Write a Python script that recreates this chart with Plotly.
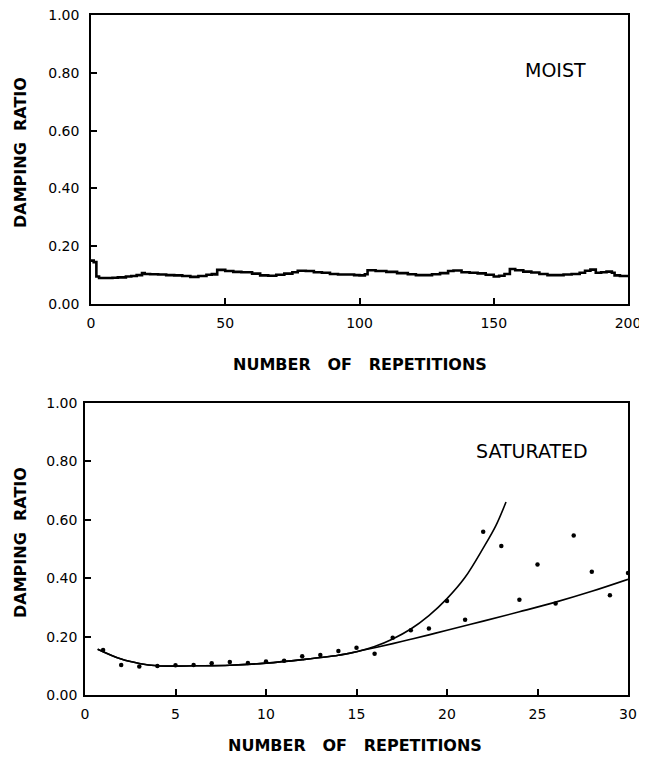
import plotly.graph_objects as go

# ---- Top panel (MOIST) data ----
moist_reps = [0, 1, 2, 3, 5, 8, 10, 13, 15, 17, 19, 20, 22, 25, 28, 31, 34, 37, 40, 43, 45, 46, 47,
              50, 53, 56, 60, 63, 66, 69, 72, 75, 77, 80, 83, 86, 89, 92, 95, 98, 100, 102, 103,
              106, 110, 114, 118, 121, 124, 127, 130, 133, 135, 138, 141, 144, 147, 150, 152, 154,
              156, 158, 161, 164, 167, 170, 173, 176, 179, 182, 184, 186, 188, 190, 192, 194, 195,
              197, 200]
moist_damping = [0.150, 0.145, 0.095, 0.090, 0.090, 0.091, 0.092, 0.095, 0.097, 0.100, 0.107, 0.104,
                 0.103, 0.102, 0.100, 0.099, 0.097, 0.094, 0.097, 0.101, 0.104, 0.102, 0.118,
                 0.114, 0.111, 0.110, 0.105, 0.099, 0.098, 0.101, 0.105, 0.110, 0.115, 0.114, 0.110,
                 0.108, 0.104, 0.102, 0.102, 0.100, 0.099, 0.103, 0.117,
                 0.114, 0.111, 0.107, 0.103, 0.100, 0.100, 0.103, 0.107, 0.114, 0.116, 0.110, 0.108,
                 0.106, 0.101, 0.095, 0.098, 0.104,
                 0.121, 0.117, 0.112, 0.109, 0.104, 0.100, 0.100, 0.102, 0.104, 0.108, 0.115, 0.119,
                 0.108, 0.110, 0.112, 0.108, 0.099, 0.097, 0.096]

# ---- Bottom panel (SATURATED) data ----
sat_reps = list(range(1, 31))
sat_damping = [0.154, 0.103, 0.098, 0.099, 0.102, 0.103, 0.109, 0.113, 0.110, 0.115,
               0.117, 0.133, 0.137, 0.151, 0.162, 0.141, 0.196, 0.222, 0.228, 0.322,
               0.258, 0.559, 0.510, 0.326, 0.447, 0.313, 0.546, 0.422, 0.342, 0.418]

fit1_x = [0.7, 2, 3, 4, 5, 6, 8, 10, 12, 14, 15, 16, 17, 18, 19, 20, 21, 22, 22.7, 23.26]
fit1_y = [0.157, 0.123, 0.108, 0.100, 0.099, 0.100, 0.102, 0.109, 0.121, 0.136, 0.148,
          0.166, 0.192, 0.226, 0.272, 0.330, 0.403, 0.503, 0.580, 0.661]

fit2_x = [0.7, 2, 3, 4, 5, 6, 8, 10, 12, 14, 15, 16, 17, 18, 19, 20, 22, 24, 26, 28, 30]
fit2_y = [0.157, 0.123, 0.108, 0.100, 0.099, 0.100, 0.102, 0.109, 0.121, 0.136, 0.148,
          0.162, 0.176, 0.191, 0.206, 0.222, 0.253, 0.285, 0.318, 0.355, 0.396]

y_ticks = [0, 0.2, 0.4, 0.6, 0.8, 1.0]
y_ticklabels = ["0.00", "0.20", "0.40", "0.60", "0.80", "1.00"]
top_xticks = [0, 50, 100, 150, 200]
bot_xticks = [0, 5, 10, 15, 20, 25, 30]

# The page body adds an 8 px margin; lay out the figure in page pixels minus that offset.
OFF = 8
W, H = 647 - OFF, 765 - OFF
def px_x(p):
    return (p - OFF) / W
def px_y(p):
    return 1 - (p - OFF) / H

tick_font = dict(family="DejaVu Sans", size=14, color="black")
title_font = dict(family="DejaVu Sans", size=16, color="black", weight="bold")
label_font = dict(family="DejaVu Sans", size=19, color="black")

fig = go.Figure()

fig.add_trace(go.Scatter(x=moist_reps, y=moist_damping, mode="lines",
                         line=dict(color="black", width=2.6, shape="hv"),
                         xaxis="x", yaxis="y", showlegend=False))

fig.add_trace(go.Scatter(x=fit1_x, y=fit1_y, mode="lines",
                         line=dict(color="black", width=1.6, shape="spline", smoothing=1.0),
                         xaxis="x2", yaxis="y2", showlegend=False))
fig.add_trace(go.Scatter(x=fit2_x, y=fit2_y, mode="lines",
                         line=dict(color="black", width=1.6, shape="spline", smoothing=1.0),
                         xaxis="x2", yaxis="y2", showlegend=False))
fig.add_trace(go.Scatter(x=sat_reps, y=sat_damping, mode="markers",
                         marker=dict(color="black", size=4.5),
                         xaxis="x2", yaxis="y2", showlegend=False))

axis_common = dict(showgrid=False, zeroline=False, showline=True, linecolor="black",
                   linewidth=1.5, mirror=True, ticks="inside", ticklen=6, tickwidth=1.5,
                   tickcolor="black", tickfont=tick_font, automargin=False,
                   ticklabeloverflow="allow")

fig.update_layout(
    template="none",
    width=W, height=H,
    margin=dict(l=0, r=0, t=0, b=0, pad=0),
    paper_bgcolor="white", plot_bgcolor="white",
    xaxis=dict(domain=[px_x(91), px_x(628)], range=[0, 200], anchor="y",
               tickvals=top_xticks, ticktext=[str(v) for v in top_xticks],
               ticklabelstandoff=5, **axis_common),
    yaxis=dict(domain=[px_y(304), px_y(15)], range=[0, 1], anchor="x",
               tickvals=y_ticks, ticktext=y_ticklabels, ticklabelstandoff=7, **axis_common),
    xaxis2=dict(domain=[px_x(85), px_x(628)], range=[0, 30], anchor="y2",
                tickvals=bot_xticks, ticktext=[str(v) for v in bot_xticks],
                ticklabelstandoff=5, **axis_common),
    yaxis2=dict(domain=[px_y(695), px_y(403)], range=[0, 1], anchor="x2",
                tickvals=y_ticks, ticktext=y_ticklabels, ticklabelstandoff=3, **axis_common),
)

ann = []
ann.append(dict(text="MOIST", x=173, y=0.808, xref="x", yref="y", showarrow=False,
                xanchor="center", yanchor="middle", font=label_font))
ann.append(dict(text="SATURATED", x=24.7, y=0.835, xref="x2", yref="y2", showarrow=False,
                xanchor="center", yanchor="middle", font=label_font))
for yc in (153, 543):
    ann.append(dict(text="DAMPING\u00a0\u00a0RATIO", x=px_x(20), y=px_y(yc), xref="paper",
                    yref="paper", showarrow=False, textangle=-90, xanchor="center",
                    yanchor="middle", font=title_font))
for xc, yc in ((360, 364), (355, 745)):
    ann.append(dict(text="NUMBER\u00a0\u00a0\u00a0OF\u00a0\u00a0\u00a0REPETITIONS", x=px_x(xc),
                    y=px_y(yc), xref="paper", yref="paper", showarrow=False,
                    xanchor="center", yanchor="middle", font=title_font))
fig.update_layout(annotations=ann)

fig.write_html("out.html")
